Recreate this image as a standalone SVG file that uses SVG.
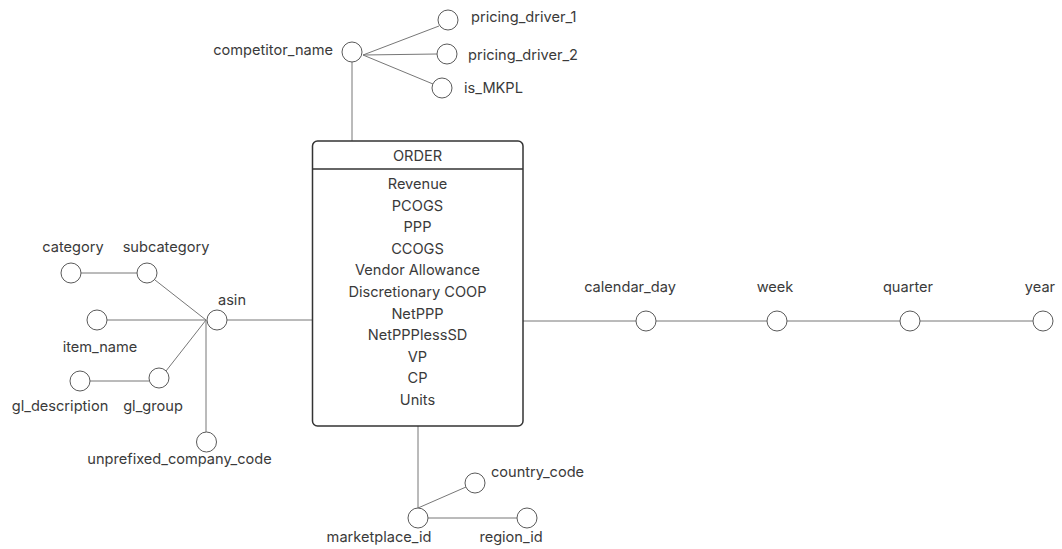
<svg xmlns="http://www.w3.org/2000/svg" width="1062" height="549" viewBox="0 0 1062 549">
<style>
text{font-family:Inter,"Liberation Sans",sans-serif;font-size:14.6px;fill:#3a3a3a}
.c{fill:#fff;stroke:#5a5a5a;stroke-width:1}
.l{stroke:#777;stroke-width:1;fill:none}
.m{text-anchor:middle}
.e{text-anchor:end}
</style>
<rect width="1062" height="549" fill="#fff"/>
<g id="connectors">
<line class="l" x1="352" y1="62" x2="352" y2="141"/>
<line class="l" x1="363" y1="55" x2="439" y2="26"/>
<line class="l" x1="363" y1="55" x2="437" y2="54"/>
<line class="l" x1="363" y1="55" x2="433" y2="84"/>
<line class="l" x1="227" y1="320" x2="312" y2="320"/>
<line class="l" x1="81" y1="273" x2="137" y2="273"/>
<line class="l" x1="155" y1="280" x2="206" y2="320"/>
<line class="l" x1="107" y1="320" x2="206" y2="320"/>
<line class="l" x1="90" y1="381" x2="149" y2="381"/>
<line class="l" x1="166" y1="371" x2="206" y2="320"/>
<line class="l" x1="206" y1="320" x2="206" y2="432"/>
<line class="l" x1="418" y1="426" x2="418" y2="508"/>
<line class="l" x1="418" y1="508" x2="466" y2="487"/>
<line class="l" x1="428" y1="518" x2="517" y2="518"/>
<line class="l" x1="523" y1="321" x2="636" y2="321"/>
<line class="l" x1="656" y1="321" x2="767" y2="321"/>
<line class="l" x1="787" y1="321" x2="900" y2="321"/>
<line class="l" x1="920" y1="321" x2="1033" y2="321"/>
</g>
<g id="order">
<rect x="312.5" y="141" width="210.5" height="285" rx="5" fill="#fff" stroke="#333" stroke-width="1.5"/>
<line x1="312.5" y1="169" x2="523" y2="169" stroke="#333" stroke-width="1.5"/>
<text class="m" x="417.5" y="161">ORDER</text>
<text class="m" x="417.5" y="189">Revenue</text>
<text class="m" x="417.5" y="210.6">PCOGS</text>
<text class="m" x="417.5" y="232.2">PPP</text>
<text class="m" x="417.5" y="253.8">CCOGS</text>
<text class="m" x="417.5" y="275.4">Vendor Allowance</text>
<text class="m" x="417.5" y="297">Discretionary COOP</text>
<text class="m" x="417.5" y="318.6">NetPPP</text>
<text class="m" x="417.5" y="340.2">NetPPPlessSD</text>
<text class="m" x="417.5" y="361.8">VP</text>
<text class="m" x="417.5" y="383.4">CP</text>
<text class="m" x="417.5" y="405">Units</text>
</g>
<g id="competitor_name"><circle class="c" cx="352" cy="52" r="10"/><text class="e" x="333" y="55">competitor_name</text></g>
<g id="pricing_driver_1"><circle class="c" cx="448" cy="20" r="10"/><text x="471" y="22">pricing_driver_1</text></g>
<g id="pricing_driver_2"><circle class="c" cx="447" cy="54" r="10"/><text x="468" y="60">pricing_driver_2</text></g>
<g id="is_MKPL"><circle class="c" cx="442" cy="88" r="10"/><text x="464" y="93">is_MKPL</text></g>
<g id="asin"><circle class="c" cx="217" cy="320" r="10"/><text class="m" x="232" y="305">asin</text></g>
<g id="category"><circle class="c" cx="71" cy="273" r="10"/><text class="m" x="73" y="252">category</text></g>
<g id="subcategory"><circle class="c" cx="147" cy="273" r="10"/><text class="m" x="166" y="252">subcategory</text></g>
<g id="item_name"><circle class="c" cx="97" cy="320" r="10"/><text class="m" x="100" y="352">item_name</text></g>
<g id="gl_description"><circle class="c" cx="80" cy="381" r="10"/><text class="m" x="60" y="411">gl_description</text></g>
<g id="gl_group"><circle class="c" cx="159" cy="378" r="10"/><text class="m" x="153" y="411">gl_group</text></g>
<g id="unprefixed_company_code"><circle class="c" cx="206.5" cy="442" r="10"/><text class="m" x="179.5" y="464">unprefixed_company_code</text></g>
<g id="marketplace_id"><circle class="c" cx="418" cy="518" r="10"/><text class="m" x="379" y="542">marketplace_id</text></g>
<g id="country_code"><circle class="c" cx="475" cy="483" r="10"/><text x="491" y="477">country_code</text></g>
<g id="region_id"><circle class="c" cx="527" cy="518" r="10"/><text class="m" x="511" y="542">region_id</text></g>
<g id="calendar_day"><circle class="c" cx="646" cy="321" r="10"/><text class="m" x="630" y="292">calendar_day</text></g>
<g id="week"><circle class="c" cx="777" cy="321" r="10"/><text class="m" x="775" y="292">week</text></g>
<g id="quarter"><circle class="c" cx="910" cy="321" r="10"/><text class="m" x="908" y="292">quarter</text></g>
<g id="year"><circle class="c" cx="1043" cy="321" r="10"/><text class="m" x="1040" y="292">year</text></g>
</svg>
